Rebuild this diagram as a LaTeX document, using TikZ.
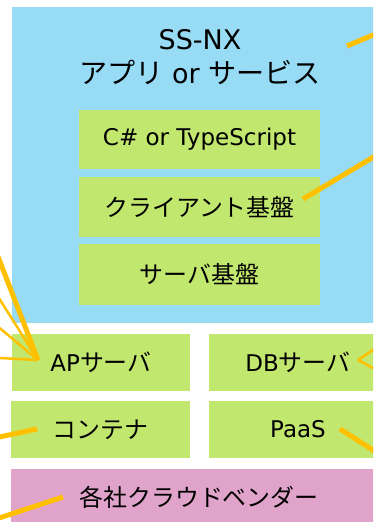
\documentclass[tikz,border=0pt]{standalone}
\usepackage{fontspec}
\setmainfont{DejaVu Sans}
\newfontfamily\jp[Scale=1.04]{Noto Sans CJK JP}
\definecolor{skyblue}{RGB}{151,219,245}
\definecolor{limegreen}{RGB}{194,231,110}
\definecolor{pinkbox}{RGB}{224,163,201}
\definecolor{linkorange}{RGB}{255,192,0}
\tikzset{
  panel/.style={fill=skyblue, draw=none, inner sep=0pt},
  gbox/.style={fill=limegreen, draw=none, inner sep=0pt, font=\fontsize{23}{27}\selectfont},
  vbox/.style={fill=pinkbox, draw=none, inner sep=0pt, font=\fontsize{23}{27}\selectfont},
  ttl/.style={anchor=base, inner sep=0pt, font=\fontsize{27}{32}\selectfont},
  thickln/.style={draw=linkorange, line width=5pt},
  thinln/.style={draw=linkorange, line width=2.5pt}
}
\begin{document}
\begin{tikzpicture}[x=1pt,y=-1pt]
\useasboundingbox (0,0) rectangle (373,522);
\clip (0,0) rectangle (373,522);
\node[panel, minimum width=376pt, minimum height=316pt] (app) at (200,165) {};
\node[ttl] (t1) at (200,49) {SS-NX};
\node[ttl] (t2) at (200,83) {{\jp アプリ} or {\jp サービス}};
\node[gbox, minimum width=241pt, minimum height=59pt] (cs) at (199.5,139.5) {C\# or TypeScript};
\node[gbox, minimum width=241pt, minimum height=60pt] (cl) at (199.5,207) {\jp クライアント基盤};
\node[gbox, minimum width=241pt, minimum height=61pt] (sv) at (199.5,274.5) {\jp サーバ基盤};
\node[gbox, minimum width=178pt, minimum height=57pt] (ap) at (101,362.5) {AP{\jp サーバ}};
\node[gbox, minimum width=178pt, minimum height=57pt] (db) at (298,362.5) {DB{\jp サーバ}};
\node[gbox, minimum width=179pt, minimum height=57pt] (ct) at (100.5,429.5) {\jp コンテナ};
\node[gbox, minimum width=178pt, minimum height=57pt] (pa) at (298,429.5) {PaaS};
\node[vbox, minimum width=376pt, minimum height=57pt] (vd) at (199,497.5) {\jp 各社クラウドベンダー};
% connector end points
\coordinate (pTitle) at (347,46);
\coordinate (eTitle) at (392,27);
\coordinate (pClient) at (303,199);
\coordinate (eClient) at (392,146);
\coordinate (pAP) at (38,360);
\coordinate (eAP1) at (-10,236);
\coordinate (eAP2) at (-10,284);
\coordinate (eAP3) at (-10,320);
\coordinate (eAP4) at (-10,357.5);
\coordinate (pCt) at (37,429);
\coordinate (eCt) at (-10,439);
\coordinate (pVd) at (63,497);
\coordinate (eVd) at (-10,521);
\coordinate (pDB) at (358,360);
\coordinate (eDB1) at (388,340);
\coordinate (eDB2) at (388,376);
\coordinate (pPa) at (340,429);
\coordinate (ePa) at (390,461);
\draw[thickln] (pTitle) -- (eTitle);
\draw[thickln] (pClient) -- (eClient);
\draw[thickln] (pAP) -- (eAP1);
\draw[thinln] (pAP) -- (eAP2);
\draw[thinln] (pAP) -- (eAP3);
\draw[thinln] (pAP) -- (eAP4);
\draw[thickln] (pCt) -- (eCt);
\draw[thickln] (pVd) -- (eVd);
\draw[thinln] (pDB) -- (eDB1);
\draw[thinln] (pDB) -- (eDB2);
\draw[thickln] (pPa) -- (ePa);
\end{tikzpicture}
\end{document}
